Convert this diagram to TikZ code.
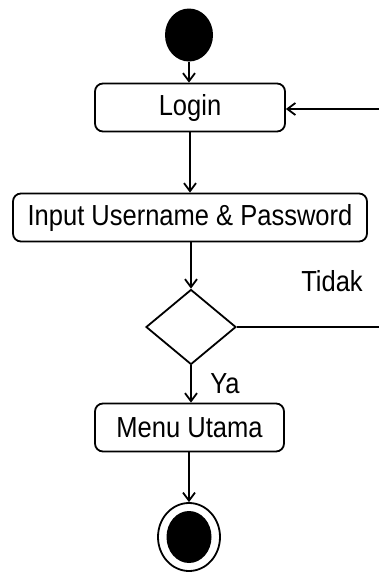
\documentclass[tikz,border=0pt]{standalone}
\usepackage{fontspec}
\setmainfont[FakeStretch=0.88]{Liberation Sans}
\usetikzlibrary{arrows.meta,shapes.geometric}

\begin{document}
\begin{tikzpicture}[x=1pt,y=-1pt,line width=1.8pt,
  >={Straight Barb[length=8pt,width=12pt,line width=1.8pt]},
  act/.style={draw,rounded corners=8pt,minimum height=48pt,inner sep=0pt,font=\fontsize{29}{32}\selectfont},
  lbl/.style={anchor=base,inner sep=0pt,font=\fontsize{29}{32}\selectfont}]
\useasboundingbox (0,0) rectangle (379,573);
% Start
\node[ellipse,fill=black,minimum width=48pt,minimum height=53pt,inner sep=0pt] (start) at (189,35) {};
% Activities
\node[act,minimum width=190pt] (login) at (190,107.5) {Login};
\node[act,minimum width=354pt] (input) at (190,217.5) {Input Username \& Password};
\node[diamond,draw,minimum width=90pt,minimum height=75pt,inner sep=0pt] (cek) at (191,327) {};
\node[act,minimum width=189pt] (menu) at (189.5,427.5) {Menu Utama};
% End
\node[ellipse,draw,minimum width=62pt,minimum height=68pt,inner sep=0pt] (end) at (189,537) {};
\node[ellipse,fill=black,minimum width=45pt,minimum height=52pt,inner sep=0pt] (endin) at (end) {};
% Edges
\coordinate (back) at (379,109);
\coordinate (tidak) at (379,327);
\draw[->] (start.south) -- (start.south |- login.north);
\draw[->] (login.south -| input) -- (input.north);
\draw[->] (input.south -| cek) -- (cek.north);
\draw[->] (cek.south) -- (cek.south |- menu.north);
\draw[->] (menu.south -| end) -- (end.north);
\draw (cek.east) -- (tidak);
\draw[->] (back) -- (back -| login.east);
% Guards
\node[lbl] (ya) at (225,393) {Ya};
\node[lbl] (tdk) at (332,291) {Tidak};
\end{tikzpicture}
\end{document}
